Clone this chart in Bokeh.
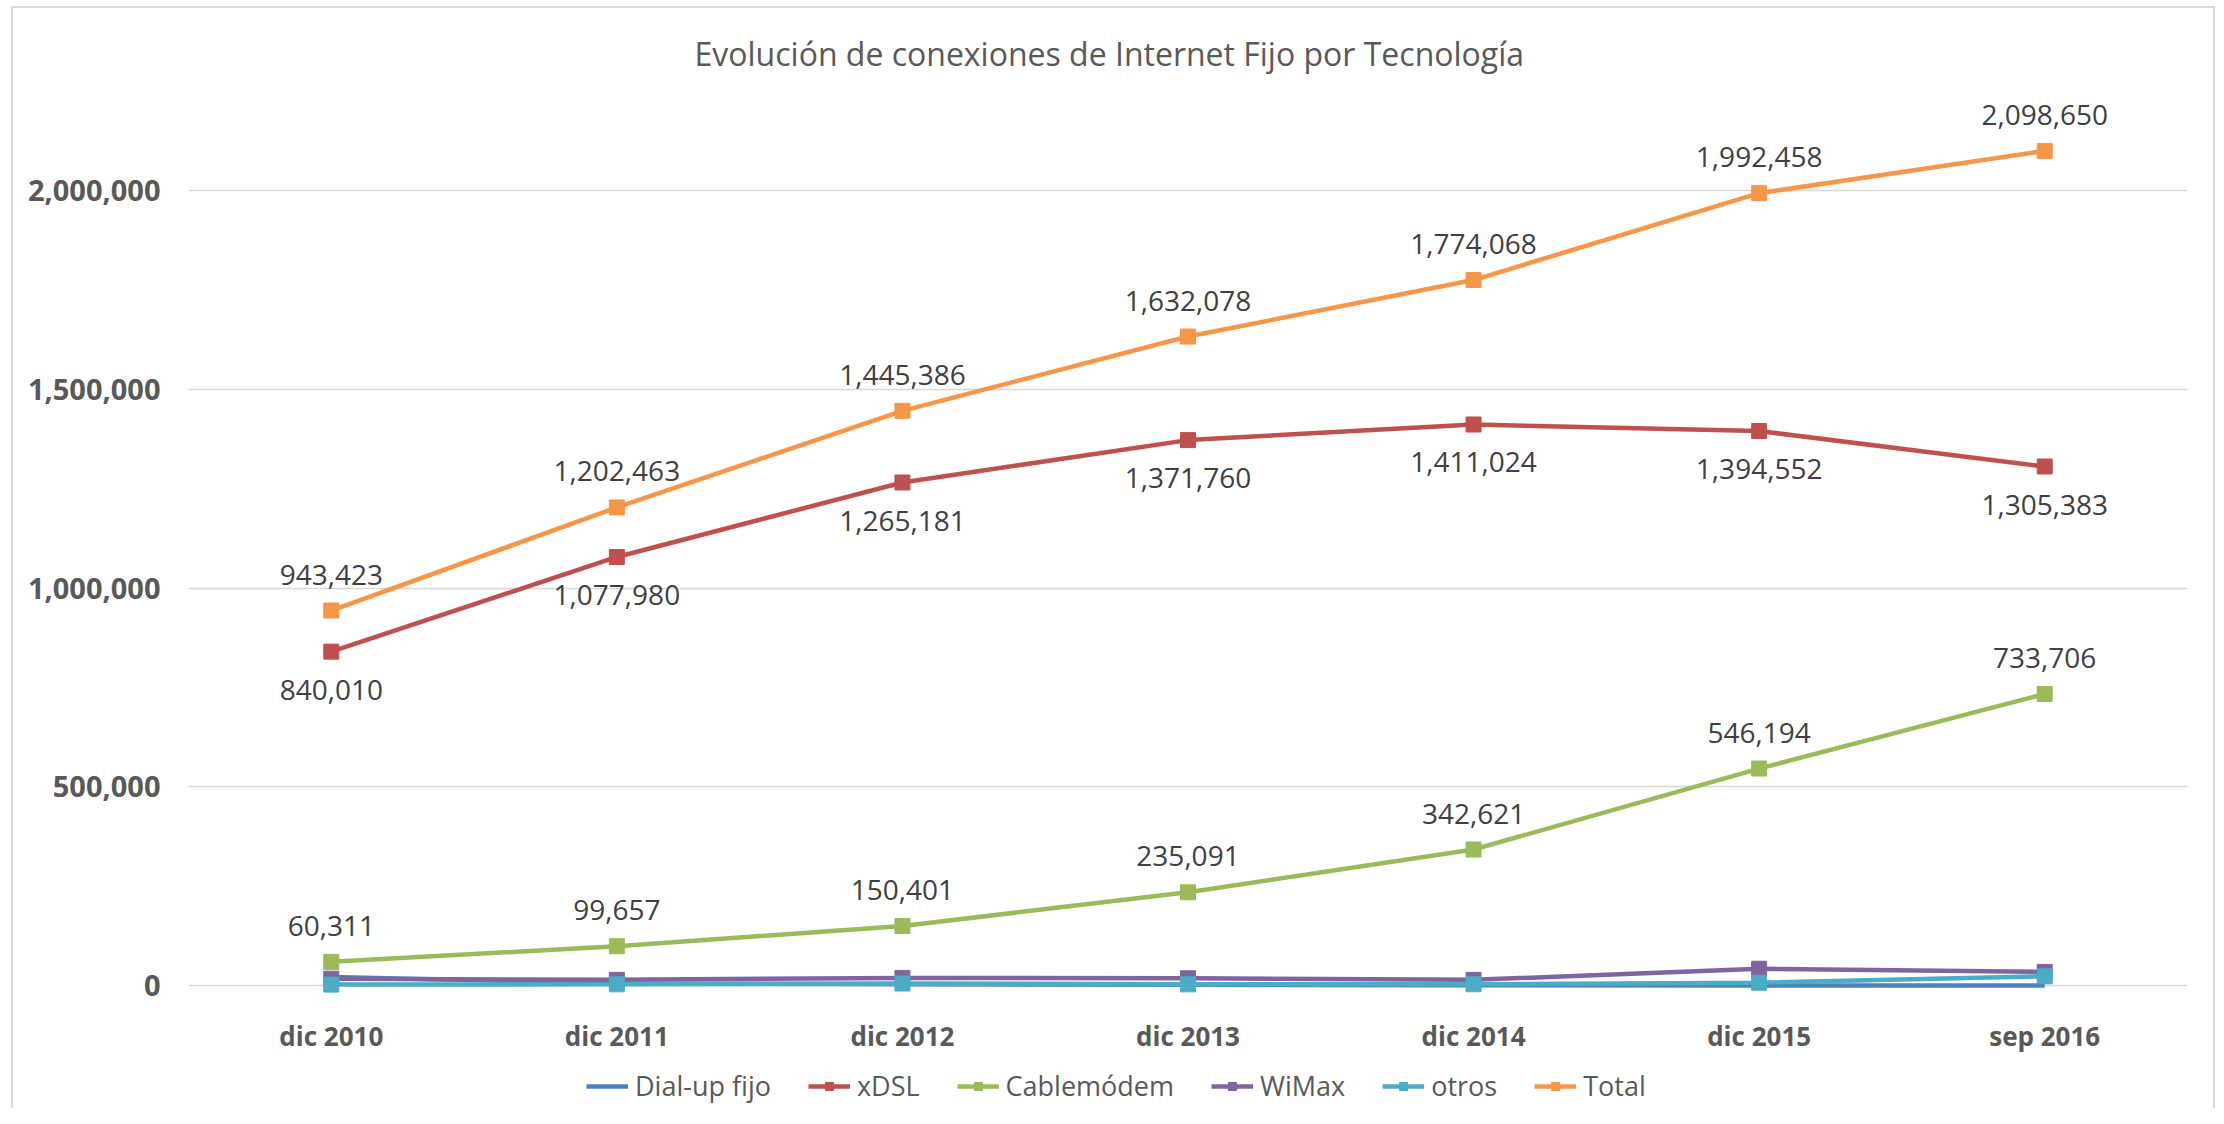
from bokeh.plotting import figure
from bokeh.layouts import column
from bokeh.models import FactorRange, Range1d, FixedTicker, NumeralTickFormatter, Legend, LegendItem
from bokeh.core.properties import value
from bokeh.embed import file_html
from bokeh.resources import INLINE

categories = ["dic 2010", "dic 2011", "dic 2012", "dic 2013", "dic 2014", "dic 2015", "sep 2016"]
dialup = [22000, 6000, 4000, 2500, 1500, 1000, 600]
xdsl = [840010, 1077980, 1265181, 1371760, 1411024, 1394552, 1305383]
cable = [60311, 99657, 150401, 235091, 342621, 546194, 733706]
wimax = [18000, 15000, 20000, 19000, 15000, 43000, 35000]
otros = [3102, 3826, 5804, 3727, 3923, 7712, 23961]
total = [943423, 1202463, 1445386, 1632078, 1774068, 1992458, 2098650]
y_ticks = [0, 500000, 1000000, 1500000, 2000000]

FONT = "Open Sans"
TXT = "#595959"

p = figure(width=2200, height=1048, output_backend="svg", toolbar_location=None,
           x_range=FactorRange(factors=categories), y_range=Range1d(-29313, 2255543),
           min_border_left=175, min_border_right=26, min_border_top=80, min_border_bottom=56,
           title="Evolución de conexiones de Internet Fijo por Tecnología")
p.title.align = "left"
p.title.offset = 506
p.title.standoff = 28
p.title.text_font = FONT
p.title.text_font_size = "32px"
p.title.text_font_style = "normal"
p.title.text_color = TXT
p.outline_line_color = None

p.xgrid.grid_line_color = None
p.ygrid.grid_line_color = "#d9d9d9"
p.ygrid.grid_line_width = 1.5
p.yaxis.ticker = FixedTicker(ticks=y_ticks)
p.yaxis.formatter = NumeralTickFormatter(format="0,0")
for ax in (p.xaxis[0], p.yaxis[0]):
    ax.axis_line_color = None
    ax.major_tick_line_color = None
    ax.minor_tick_line_color = None
    ax.major_label_text_font = FONT
    ax.major_label_text_font_style = "bold"
    ax.major_label_text_color = TXT
p.yaxis.major_label_text_font_size = "29px"
p.xaxis.major_label_text_font_size = "26px"
p.yaxis.major_label_standoff = 22
p.xaxis.major_label_standoff = 14

series = [
    ("Dial-up fijo", dialup, "#4F81BD", False),
    ("xDSL", xdsl, "#C0504D", True),
    ("Cablemódem", cable, "#9BBB59", True),
    ("WiMax", wimax, "#8064A2", True),
    ("otros", otros, "#4BACC6", True),
    ("Total", total, "#F79646", True),
]
for name, vals, col, marker in series:
    p.line(categories, vals, line_color=col, line_width=4.5)
    if marker:
        p.scatter(categories, vals, marker="square", size=15, fill_color=col, line_color=col)

label_specs = [(total, -36), (xdsl, 38), (cable, -36)]
for vals, off in label_specs:
    p.text(categories, vals, text=[f"{v:,}" for v in vals], y_offset=off,
           text_align="center", text_baseline="middle", text_font=value(FONT),
           text_font_size="28px", text_color="#404040")

# legend strip below the chart (series drawn off-range, only their legend glyphs show)
lg = figure(width=2200, height=52, output_backend="svg", toolbar_location=None,
            x_range=FactorRange(factors=categories), y_range=Range1d(-2, -1),
            min_border_left=0, min_border_right=0, min_border_top=0, min_border_bottom=0)
lg.axis.visible = False
lg.grid.visible = False
lg.outline_line_color = None
items = []
for name, vals, col, marker in series:
    rs = [lg.line(categories, vals, line_color=col, line_width=4.5)]
    if marker:
        rs.append(lg.scatter(categories, vals, marker="square", size=15, fill_color=col, line_color=col))
    items.append(LegendItem(label=name, renderers=rs))
legend = Legend(items=items, orientation="horizontal", location=(398, 4))
legend.label_text_font = FONT
legend.label_text_font_size = "27px"
legend.label_text_color = TXT
legend.border_line_color = None
legend.background_fill_alpha = 0
legend.glyph_width = 42
legend.label_standoff = 7
legend.spacing = 37
legend.padding = 4
legend.margin = 0
lg.add_layout(legend, "center")

layout = column(p, lg, spacing=0,
                styles={"margin-left": "11px", "margin-top": "6px",
                        "border-left": "2px solid #d9d9d9", "border-right": "2px solid #d9d9d9",
                        "border-top": "2px solid #d9d9d9"})
open("out.html", "w").write(file_html(layout, INLINE))
